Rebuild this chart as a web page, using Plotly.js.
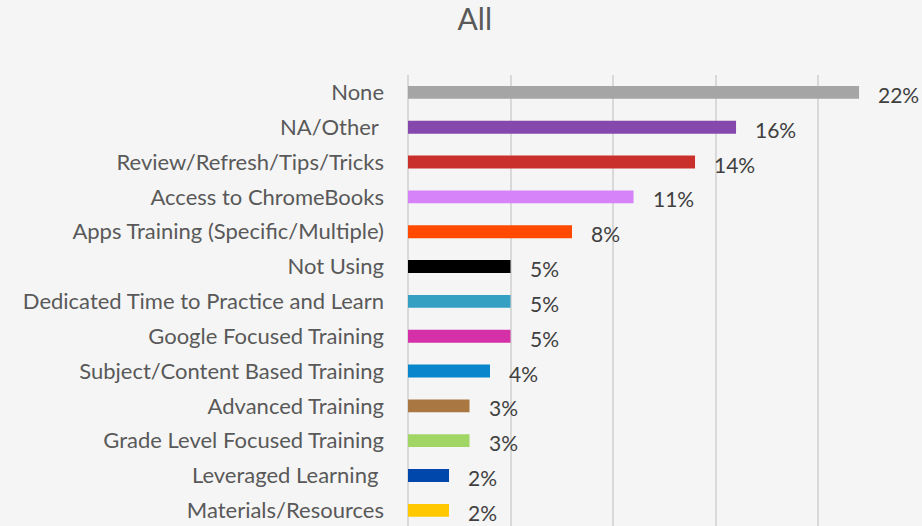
<!DOCTYPE html>
<html>
<head>
<meta charset="utf-8">
<script src="https://cdn.plot.ly/plotly-3.0.1.min.js"></script>
<style>html,body{margin:0;padding:0;background:#f5f5f5;}#chart{width:922px;height:526px;}</style>
</head>
<body>
<div id="chart"></div>
<script>
const categories = ["None","NA/Other\u00a0","Review/Refresh/Tips/Tricks","Access to ChromeBooks","Apps Training (Specific/Multiple)","Not Using","Dedicated Time to Practice and Learn","Google Focused Training","Subject/Content Based Training","Advanced Training","Grade Level Focused Training","Leveraged Learning\u00a0","Materials/Resources"];
const values = [22,16,14,11,8,5,5,5,4,3,3,2,2];
const labels = ["22%","16%","14%","11%","8%","5%","5%","5%","4%","3%","3%","2%","2%"];
const colors = ["#A5A5A5","#8549AE","#C9302B","#D683FA","#FF4A00","#000000","#35A0C2","#D630A8","#0A86CD","#A97741","#A2D664","#0047AB","#FFC800"];

const font = "Lato, 'Open Sans', sans-serif";
const trace = {
  type: "bar", orientation: "h",
  y: categories, x: values,
  marker: {color: colors},
  width: 0.37,
  hoverinfo: "none"
};
const annotations = categories.map((c,i)=>({
  x: values[i], y: c, xref: "x", yref: "y",
  text: labels[i], showarrow: false, xanchor: "left", yanchor: "middle",
  xshift: 17, yshift: -2,
  font: {family: font, size: 21, color: "#404040"}
}));
Plotly.newPlot("chart", [trace], {
  width: 922, height: 526,
  paper_bgcolor: "#f5f5f5", plot_bgcolor: "#f5f5f5",
  margin: {l: 408, r: 0, t: 75, b: 0},
  title: {text: "All", x: 0.515, xanchor: "center", y: 0.962, yanchor: "middle", font: {family: font, size: 30, color: "#595959"}},
  xaxis: {range: [0, 25.07], tickvals: [0,5,10,15,20], showticklabels: false, showgrid: true, gridcolor: "#d9d9d9", gridwidth: 2, zeroline: true, zerolinecolor: "#d9d9d9", zerolinewidth: 2, fixedrange: true},
  yaxis: {type: "category", categoryorder: "array", categoryarray: categories, range: [12.45, -0.5], showgrid: false, zeroline: false, ticks: "", ticklabelstandoff: 23, tickfont: {family: font, size: 22, color: "#595959"}},
  annotations: annotations,
  showlegend: false
}, {displayModeBar: false, staticPlot: true});
</script>
</body>
</html>
